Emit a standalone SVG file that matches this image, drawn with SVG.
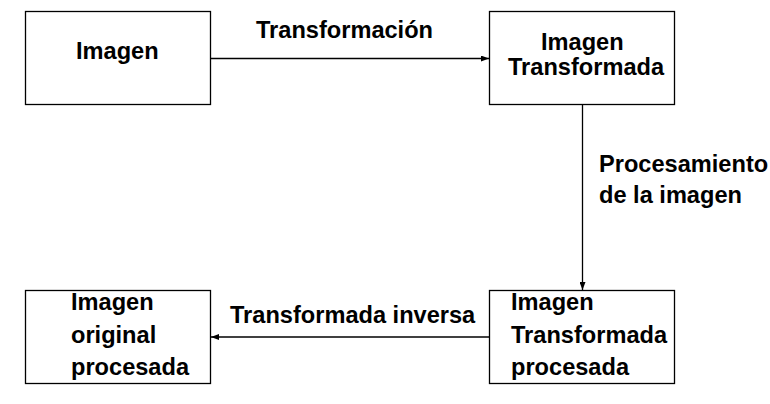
<svg xmlns="http://www.w3.org/2000/svg" width="770" height="404" viewBox="0 0 770 404">
<style>
.box{fill:#fff;stroke:#000;stroke-width:1.3}
.t{font-family:"Liberation Sans",Arial,sans-serif;font-weight:bold;font-size:23.6px;fill:#000}
.c{stroke:#000;stroke-width:1.3;fill:none}
</style>
<defs>
<marker id="ah" viewBox="0 0 8 6" refX="8" refY="3" markerWidth="8" markerHeight="6" markerUnits="userSpaceOnUse" orient="auto">
<path d="M0,0 L8,3 L0,6 Z" fill="#000"/>
</marker>
</defs>
<rect width="770" height="404" fill="#fff"/>
<g id="connectors">
<line class="c" x1="211" y1="58.5" x2="489" y2="58.5" marker-end="url(#ah)"/>
<line class="c" x1="582.5" y1="104.5" x2="582.5" y2="290" marker-end="url(#ah)"/>
<line class="c" x1="489" y1="337" x2="211" y2="337" marker-end="url(#ah)"/>
<text class="t" x="256" y="38">Transformación</text>
<text class="t" x="599" y="172">Procesamiento</text>
<text class="t" x="599" y="203">de la imagen</text>
<text class="t" x="230" y="323">Transformada inversa</text>
</g>
<g id="n1">
<rect class="box" x="25.5" y="11.5" width="185" height="93"/>
<text class="t" x="76" y="59">Imagen</text>
</g>
<g id="n2">
<rect class="box" x="489.5" y="11.5" width="185" height="93"/>
<text class="t" x="541" y="50">Imagen</text>
<text class="t" x="508" y="75">Transformada</text>
</g>
<g id="n3">
<rect class="box" x="489.5" y="290.5" width="185" height="93"/>
<text class="t" x="511" y="310">Imagen</text>
<text class="t" x="511" y="342.5">Transformada</text>
<text class="t" x="511" y="375">procesada</text>
</g>
<g id="n4">
<rect class="box" x="25.5" y="290.5" width="185" height="93"/>
<text class="t" x="71" y="310">Imagen</text>
<text class="t" x="71" y="343">original</text>
<text class="t" x="71" y="374.5">procesada</text>
</g>
</svg>
